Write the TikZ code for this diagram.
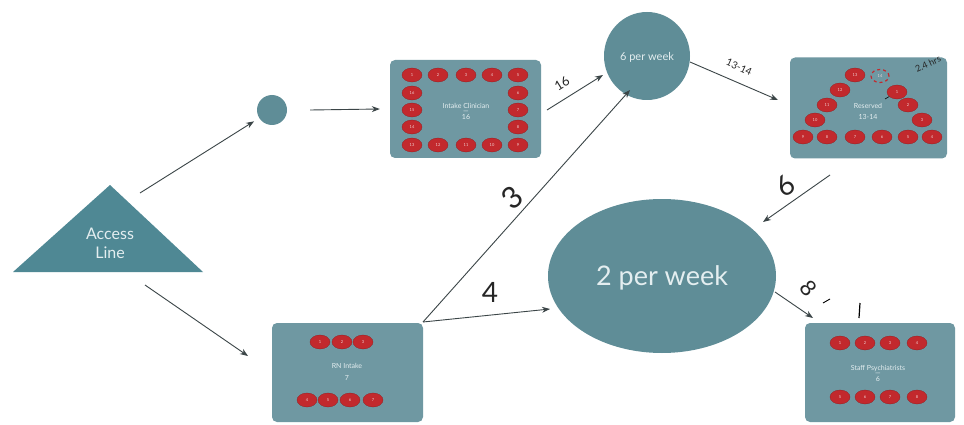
\documentclass[tikz,border=0pt]{standalone}
\usepackage{fontspec}
\setmainfont{Lato}
\usetikzlibrary{shapes.geometric,arrows.meta}
\definecolor{boxc}{HTML}{6F98A2}
\definecolor{circc}{HTML}{5F8D97}
\definecolor{tric}{HTML}{4F8894}
\definecolor{dotc}{HTML}{C2292D}
\definecolor{arrc}{HTML}{3B4547}
\definecolor{txtc}{HTML}{E4EEF0}
\begin{document}
\begin{tikzpicture}[x=1pt,y=-1pt,
  panel/.style={fill=boxc,rounded corners=5pt,inner sep=0pt},
  blob/.style={ellipse,fill=circc,inner sep=0pt},
  dotn/.style={ellipse,fill=dotc,draw=dotc!75!black,line width=0.3pt,minimum width=20pt,minimum height=14pt,inner sep=0pt,font=\fontsize{4}{4}\selectfont,text=white!80!dotc},
  paneltext/.style={text=txtc,font=\fontsize{7}{8}\selectfont,align=center},
  arr/.style={-{Stealth[length=8pt,width=6pt]},line width=0.9pt,draw=arrc},
  hand/.style={text=black!85,font=\fontsize{#1}{#1}\selectfont,inner sep=1pt},
  hand/.default=12
]
\useasboundingbox (0,0) rectangle (964,425);
\fill[white] (0,0) rectangle (964,425);

% triangle
\fill[tric] (13,272) -- (110,185) -- (203,272) -- cycle;
\node[text=txtc,font=\fontsize{16}{19}\selectfont,align=center] (tri) at (110,243) {Access\\Line};

% small circle
\node[blob,minimum width=30pt,minimum height=30pt] (small) at (272,110) {};

% intake panel
\node[panel,minimum width=151pt,minimum height=98pt] (intake) at (465.5,109) {};
\foreach \x/\y/\n in {412/75/1,438/75/2,466/75/3,492/75/4,518/75/5,
  518/93/6,518/110/7,518/127/8,
  518/145/9,492/145/10,466/145/11,438/145/12,412/145/13,
  412/127/14,412/110/15,412/93/16}
  \node[dotn] (i\n) at (\x,\y) {\n};
\node[paneltext] (intaket) at (466,111) {Intake Clinician\\[-3pt]—\\[-2pt]16};

% 6 per week
\node[blob,minimum width=86pt,minimum height=88pt] (sixw) at (647,56) {};
\node[text=txtc,font=\fontsize{11}{12}\selectfont] (sixt) at (647,57) {6 per week};

% reserved panel
\node[panel,minimum width=157pt,minimum height=101pt] (res) at (868.5,108) {};
\foreach \x/\y/\n in {897/92/1,908/105/2,922/120/3,
  932/137/4,908/137/5,882/137/6,855/137/7,827/137/8,803/137/9,
  815/120/10,827/105/11,840/90/12,855/75/13}
  \node[dotn] (r\n) at (\x,\y) {\n};
\node[ellipse,draw=dotc,dashed,line width=1.2pt,minimum width=18pt,minimum height=13pt,inner sep=0pt,font=\fontsize{4}{4}\selectfont,text=white!80!dotc] (r14) at (880,76) {14};
\node[paneltext] (rest) at (868,111) {Reserved\\[3pt]13-14};
\draw[black,line width=0.6pt] (r1) -- (885,99);
\node[hand=9,rotate=25] (hrs) at (928,64) {2.4 hrs};

% 2 per week
\node[blob,minimum width=228pt,minimum height=154pt] (twow) at (662,276) {};
\node[text=txtc,font=\fontsize{27}{30}\selectfont] (twot) at (662,278) {2 per week};

% RN panel
\node[panel,minimum width=151pt,minimum height=99pt] (rn) at (347.5,372.5) {};
\foreach \x/\y/\n in {320/342/1,342/342/2,363/342/3,307/400/4,328/400/5,350/400/6,373/400/7}
  \node[dotn] (n\n) at (\x,\y) {\n};
\node[paneltext] (rnt) at (347,372) {RN Intake\\[4pt]7};

% staff panel
\node[panel,minimum width=150pt,minimum height=99pt] (staff) at (880,372.5) {};
\foreach \x/\y/\n in {840/343/1,865/343/2,890/343/3,917/343/4,840/397/5,865/397/6,890/397/7,917/397/8}
  \node[dotn] (s\n) at (\x,\y) {\n};
\node[paneltext] (stt) at (878,373) {Staff Psychiatrists\\[-3pt]—\\[-2pt]6};

% connector end points
\coordinate (triNE) at (140,193);
\coordinate (triSE) at (145,285);
\coordinate (inOut) at (547,110);
\coordinate (rnOut) at (423,322);
\coordinate (resOut) at (830,175);
\coordinate (twoOut) at (775,292);

% connectors
\draw[arr,shorten >=6pt] (triNE) -- (small);
\draw[arr] (small.east) ++(23,0) coordinate (smOut) (smOut) -- ([xshift=-10pt]intake.west);
\draw[arr] (inOut) -- (603,75) coordinate (sixIn1);
\draw[arr] (690,62) coordinate (sixOut) -- (778,100) coordinate (resIn);
\draw[arr] (resOut) -- (763,222) coordinate (twoIn1);
\draw[arr] (triSE) -- (248,356) coordinate (rnIn);
\draw[arr] (rnOut) -- (630,90) coordinate (sixIn2);
\draw[arr] (rnOut) -- (550,309) coordinate (twoIn2);
\draw[arr] (twoOut) -- (813,318) coordinate (stIn);

% handwritten labels
\node[hand=13,rotate=32] (l16) at (562,84) {16};
\node[hand=10,rotate=-24] (l1314) at (739,67) {13-14};
\node[hand=30,rotate=40] (l3) at (512,198) {3};
\node[hand=28] (l4) at (490,292) {4};
\node[hand=28,rotate=35] (l6) at (785,186) {6};
\node[hand=22,rotate=-50] (l8) at (809,288) {8};
\draw[black,line width=0.9pt] (823,303) -- (830,299);
\draw[black,line width=1.2pt] (860,303) -- (859,318);
\end{tikzpicture}
\end{document}
